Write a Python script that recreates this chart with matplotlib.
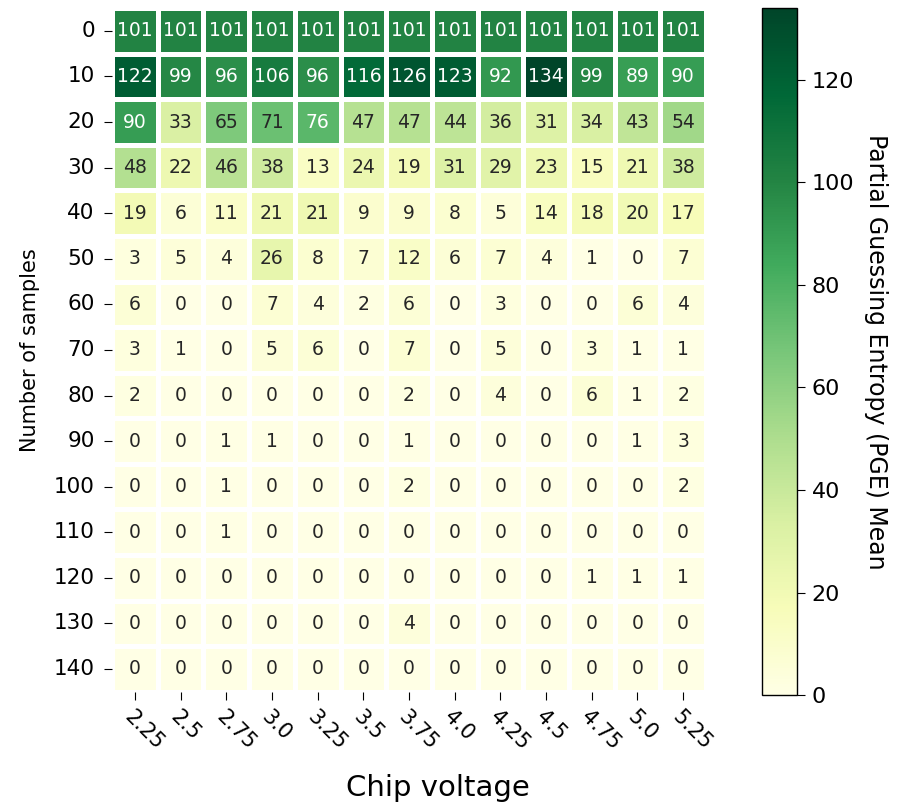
import numpy as np
import matplotlib
matplotlib.use("Agg")
import matplotlib.pyplot as plt
import seaborn as sns

# 电压（列）与样本数（行）
voltages = ["2.25", "2.5", "2.75", "3.0", "3.25", "3.5", "3.75", "4.0", "4.25", "4.5", "4.75", "5.0", "5.25"]
samples = [0, 10, 20, 30, 40, 50, 60, 70, 80, 90, 100, 110, 120, 130, 140]

# PGE 均值，每行对应一个样本数
pge_0 = [101, 101, 101, 101, 101, 101, 101, 101, 101, 101, 101, 101, 101]
pge_10 = [122, 99, 96, 106, 96, 116, 126, 123, 92, 134, 99, 89, 90]
pge_20 = [90, 33, 65, 71, 76, 47, 47, 44, 36, 31, 34, 43, 54]
pge_30 = [48, 22, 46, 38, 13, 24, 19, 31, 29, 23, 15, 21, 38]
pge_40 = [19, 6, 11, 21, 21, 9, 9, 8, 5, 14, 18, 20, 17]
pge_50 = [3, 5, 4, 26, 8, 7, 12, 6, 7, 4, 1, 0, 7]
pge_60 = [6, 0, 0, 7, 4, 2, 6, 0, 3, 0, 0, 6, 4]
pge_70 = [3, 1, 0, 5, 6, 0, 7, 0, 5, 0, 3, 1, 1]
pge_80 = [2, 0, 0, 0, 0, 0, 2, 0, 4, 0, 6, 1, 2]
pge_90 = [0, 0, 1, 1, 0, 0, 1, 0, 0, 0, 0, 1, 3]
pge_100 = [0, 0, 1, 0, 0, 0, 2, 0, 0, 0, 0, 0, 2]
pge_110 = [0, 0, 1, 0, 0, 0, 0, 0, 0, 0, 0, 0, 0]
pge_120 = [0, 0, 0, 0, 0, 0, 0, 0, 0, 0, 1, 1, 1]
pge_130 = [0, 0, 0, 0, 0, 0, 4, 0, 0, 0, 0, 0, 0]
pge_140 = [0, 0, 0, 0, 0, 0, 0, 0, 0, 0, 0, 0, 0]

pge = np.array([pge_0, pge_10, pge_20, pge_30, pge_40, pge_50, pge_60, pge_70,
                pge_80, pge_90, pge_100, pge_110, pge_120, pge_130, pge_140])

fig = plt.figure(figsize=(8.97, 8.11), dpi=100)
ax = fig.add_axes([0.125, 0.147, 0.662, 0.843])
cax = fig.add_axes([0.850, 0.143, 0.038, 0.847])

sns.heatmap(pge, ax=ax, cbar_ax=cax, cmap="YlGn", vmin=0, vmax=134,
            annot=True, fmt="d", annot_kws={"size": 13.5},
            linewidths=3.5, linecolor="white",
            xticklabels=voltages, yticklabels=samples,
            cbar_kws={"label": "Partial Guessing Entropy (PGE) Mean"})

ax.set_ylabel("Number of samples", fontsize=15, labelpad=10)
ax.tick_params(axis="x", labelsize=15, rotation=-45, length=5.5, pad=5)
ax.tick_params(axis="y", labelsize=15.5, rotation=0, length=5.5, pad=7)
for lbl in ax.get_xticklabels():
    lbl.set_ha("left")
    lbl.set_rotation_mode("anchor")
ax.set_xlabel("Chip voltage", fontsize=21)
ax.xaxis.set_label_coords(0.549, -0.12)

cbar = ax.collections[0].colorbar
cbar.ax.tick_params(labelsize=16, length=6, pad=5)
cbar.outline.set_visible(True)
cbar.outline.set_edgecolor("black")
cbar.outline.set_linewidth(1)
cbar.set_label("Partial Guessing Entropy (PGE) Mean", fontsize=17, rotation=270, labelpad=24)

fig.savefig("out.png", dpi=100)
